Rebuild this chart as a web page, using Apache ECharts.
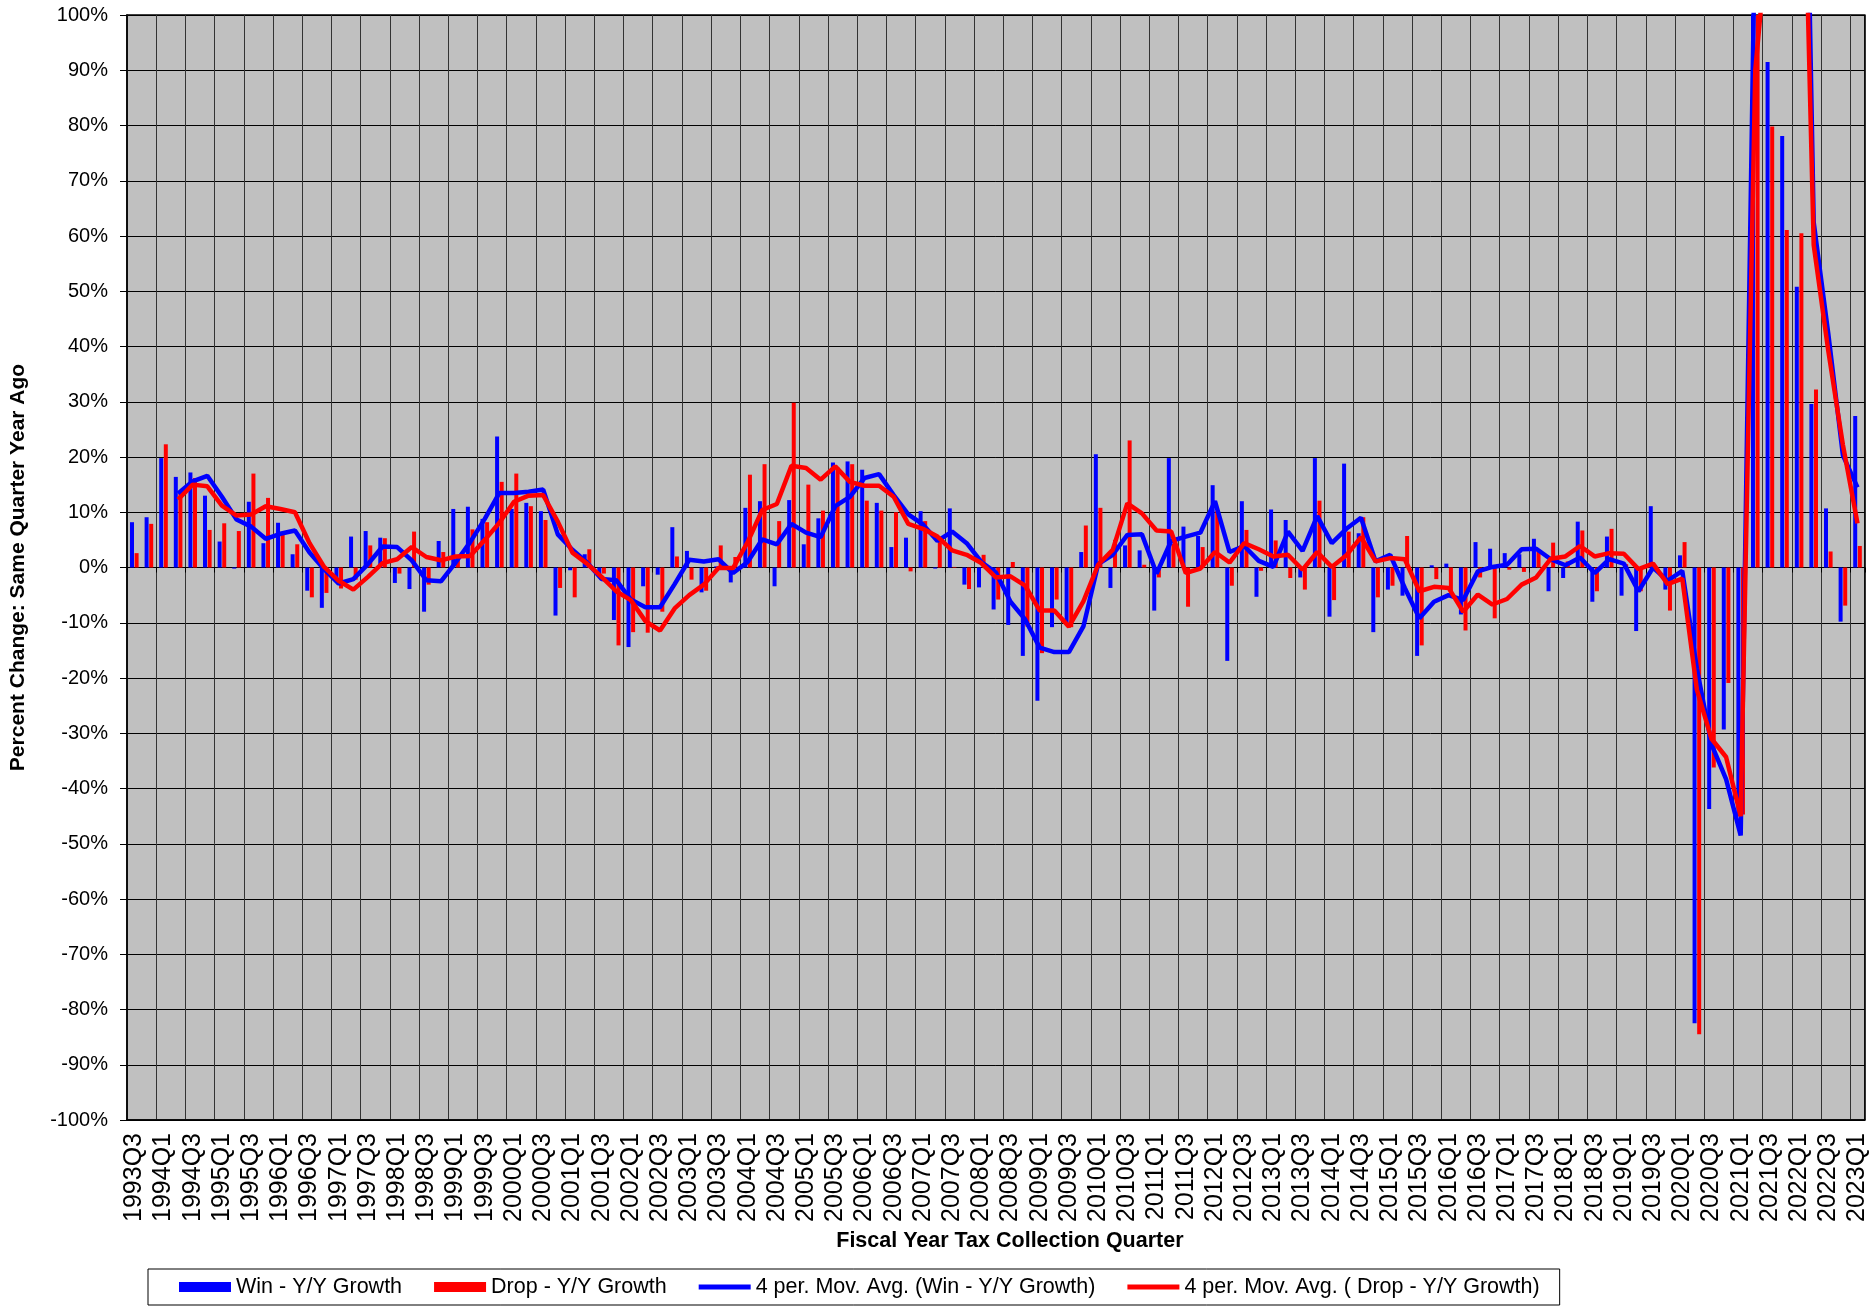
<!DOCTYPE html>
<html>
<head>
<meta charset="utf-8">
<script src="https://cdn.jsdelivr.net/npm/echarts@6/dist/echarts.min.js"></script>
<style>
  html, body { margin: 0; padding: 0; background: #fff; }
  #main { width: 1870px; height: 1306px; }
</style>
</head>
<body>
<div id="main"></div>
<script>
// quarters on the category axis
var quarters = [
  '1993Q3','1993Q4',
  '1994Q1','1994Q2','1994Q3','1994Q4',
  '1995Q1','1995Q2','1995Q3','1995Q4',
  '1996Q1','1996Q2','1996Q3','1996Q4',
  '1997Q1','1997Q2','1997Q3','1997Q4',
  '1998Q1','1998Q2','1998Q3','1998Q4',
  '1999Q1','1999Q2','1999Q3','1999Q4',
  '2000Q1','2000Q2','2000Q3','2000Q4',
  '2001Q1','2001Q2','2001Q3','2001Q4',
  '2002Q1','2002Q2','2002Q3','2002Q4',
  '2003Q1','2003Q2','2003Q3','2003Q4',
  '2004Q1','2004Q2','2004Q3','2004Q4',
  '2005Q1','2005Q2','2005Q3','2005Q4',
  '2006Q1','2006Q2','2006Q3','2006Q4',
  '2007Q1','2007Q2','2007Q3','2007Q4',
  '2008Q1','2008Q2','2008Q3','2008Q4',
  '2009Q1','2009Q2','2009Q3','2009Q4',
  '2010Q1','2010Q2','2010Q3','2010Q4',
  '2011Q1','2011Q2','2011Q3','2011Q4',
  '2012Q1','2012Q2','2012Q3','2012Q4',
  '2013Q1','2013Q2','2013Q3','2013Q4',
  '2014Q1','2014Q2','2014Q3','2014Q4',
  '2015Q1','2015Q2','2015Q3','2015Q4',
  '2016Q1','2016Q2','2016Q3','2016Q4',
  '2017Q1','2017Q2','2017Q3','2017Q4',
  '2018Q1','2018Q2','2018Q3','2018Q4',
  '2019Q1','2019Q2','2019Q3','2019Q4',
  '2020Q1','2020Q2','2020Q3','2020Q4',
  '2021Q1','2021Q2','2021Q3','2021Q4',
  '2022Q1','2022Q2','2022Q3','2022Q4',
  '2023Q1'
];

// Win - Y/Y growth (%)
var winGrowth = [
  8.2, 9.1,
  19.8, 16.4, 17.2, 13.0,
  4.7, -0.2, 11.9, 4.4,
  8.1, 2.4, -4.2, -7.3,
  -2.5, 5.6, 6.6, 5.4,
  -2.8, -3.9, -8.0, 4.8,
  10.6, 11.0, 8.8, 23.7,
  10.6, 11.7, 10.2, -8.7,
  -0.5, 2.4, -1.5, -9.5,
  -14.4, -3.4, -1.3, 7.3,
  3.0, -4.5, 0.2, -2.7,
  10.8, 12.0, -3.4, 12.2,
  4.2, 8.9, 19.0, 19.2,
  17.7, 11.7, 3.7, 5.4,
  10.2, -0.2, 10.7, -3.1,
  -3.6, -7.6, -10.4, -16.0,
  -24.1, -10.8, -10.3, 2.8,
  20.5, -3.7, 4.0, 3.1,
  -7.8, 19.8, 7.4, 5.7,
  14.9, -16.9, 12.0, -5.3,
  10.5, 8.6, -1.8, 19.8,
  -8.9, 18.8, 6.2, -11.7,
  -4.0, -5.1, -16.0, 0.4,
  0.7, -8.5, 4.6, 3.4,
  2.6, 2.4, 5.2, -4.3,
  -1.9, 8.3, -6.2, 5.6,
  -5.1, -11.5, 11.1, -4.0,
  2.2, -82.5, -43.7, -29.3,
  -45.0, 590, 91.5, 78.1,
  50.8, 29.6, 10.7, -9.8,
  27.4
];

// Drop - Y/Y growth (%)
var dropGrowth = [
  2.6, 7.9,
  22.3, 13.6, 16.2, 6.8,
  8.0, 6.6, 17.0, 12.6,
  6.2, 4.2, -5.4, -4.6,
  -3.8, -2.2, 4.0, 5.3,
  -1.1, 6.5, -3.1, 2.8,
  1.9, 6.9, 8.2, 15.5,
  17.0, 11.1, 8.6, -3.7,
  -5.4, 3.3, -1.1, -14.1,
  -11.7, -11.8, -8.0, 2.0,
  -2.2, -4.2, 4.0, 1.9,
  16.8, 18.7, 8.4, 29.8,
  15.0, 10.3, 18.1, 18.7,
  12.1, 10.3, 10.0, -0.7,
  8.4, 4.6, 0.1, -3.9,
  2.3, -5.8, 1.0, -10.7,
  -15.5, -5.8, -10.8, 7.6,
  10.8, 5.0, 23.0, 0.5,
  -1.8, 4.3, -7.1, 3.7,
  10.3, -3.3, 6.8, -0.6,
  4.9, -1.9, -4.0, 12.1,
  -5.9, 6.5, 9.1, -5.4,
  -3.3, 5.7, -14.1, -2.1,
  -4.4, -11.4, -1.8, -9.2,
  -0.4, -0.8, 3.2, 4.5,
  1.1, 6.7, -4.3, 7.0,
  0.6, -4.3, -0.5, -7.8,
  4.6, -84.5, -36.2, -20.9,
  -44.7, 462, 79.8, 61.1,
  60.5, 32.2, 2.9, -6.9,
  3.9
];

// 4 per. moving average lines
var winAvg = [
  null, null,
  null, 13.4, 15.6, 16.6,
  12.8, 8.7, 7.4, 5.2,
  6.1, 6.7, 2.7, -0.3,
  -2.9, -2.1, 0.6, 3.8,
  3.7, 1.3, -2.3, -2.5,
  0.9, 4.6, 8.8, 13.5,
  13.5, 13.7, 14.1, 6.0,
  3.2, 0.9, -2.1, -2.3,
  -5.8, -7.2, -7.2, -3.0,
  1.4, 1.1, 1.5, -1.0,
  1.0, 5.1, 4.2, 7.9,
  6.3, 5.5, 11.1, 12.8,
  16.2, 16.9, 13.1, 9.6,
  7.8, 4.8, 6.5, 4.4,
  1.0, -0.9, -6.2, -9.4,
  -14.5, -15.3, -15.3, -10.6,
  0.6, 2.3, 5.9, 6.0,
  -1.1, 4.8, 5.6, 6.3,
  12.0, 2.8, 3.9, 1.2,
  0.1, 6.5, 3.0, 9.3,
  4.4, 7.0, 9.0, 1.1,
  2.3, -3.7, -9.2, -6.2,
  -5.0, -5.9, -0.7, 0.1,
  0.5, 3.3, 3.4, 1.5,
  0.4, 1.8, -1.0, 1.5,
  0.7, -4.3, 0.0, -2.4,
  -0.6, -18.3, -32.0, -38.3,
  -48.5, 119, 153, 180,
  204, 62.5, 42.3, 20.3,
  14.5
];

var dropAvg = [
  null, null,
  null, 12.3, 15.0, 14.7,
  11.2, 9.4, 9.6, 11.1,
  10.6, 10.0, 4.4, 0.1,
  -2.4, -4.0, -1.7, 0.8,
  1.5, 3.7, 1.9, 1.3,
  2.0, 2.1, 5.0, 8.1,
  11.9, 13.0, 13.1, 8.3,
  2.7, 0.7, -1.7, -4.3,
  -5.9, -9.7, -11.4, -7.4,
  -5.0, -3.1, -0.1, -0.1,
  4.6, 10.4, 11.5, 18.4,
  18.0, 15.9, 18.3, 15.5,
  14.8, 14.8, 12.8, 7.9,
  7.0, 5.6, 3.1, 2.3,
  0.8, -1.8, -1.6, -3.3,
  -7.8, -7.8, -10.7, -6.1,
  0.5, 3.2, 11.6, 9.8,
  6.7, 6.5, -1.0, -0.2,
  2.8, 0.9, 4.4, 3.3,
  2.0, 2.3, -0.4, 2.8,
  0.1, 2.2, 5.5, 1.1,
  1.7, 1.5, -4.3, -3.5,
  -3.7, -8.0, -4.9, -6.7,
  -5.7, -3.1, -1.8, 1.6,
  2.0, 3.9, 2.0, 2.6,
  2.5, -0.3, 0.7, -3.0,
  -2.0, -22.1, -31.0, -34.3,
  -45.0, 90, 119, 139.5,
  166, 58.4, 39.2, 22.2,
  8.0
];

var FONT = 'Arial, "Liberation Sans", sans-serif';
// thick flat stroke used as legend icon for the average lines
var LINE_ICON = 'path://M0,0L52,0L52,5L0,5Z';

var myChart = echarts.init(document.getElementById('main'), null, { renderer: 'canvas' });
myChart.setOption({
    animation: false,
    backgroundColor: '#ffffff',
    textStyle: { fontFamily: FONT, color: '#000' },
    grid: {
        left: 126,
        top: 15,
        width: 1740,
        height: 1105,
        show: true,
        backgroundColor: '#C0C0C0',
        borderColor: '#000',
        borderWidth: 1.5
    },
    legend: {
        left: 148,
        top: 1269,
        itemWidth: 52,
        itemHeight: 10,
        itemGap: 32,
        padding: [7, 20, 7, 31],
        borderColor: '#000',
        borderWidth: 1,
        textStyle: { fontSize: 21.5, color: '#000', fontFamily: FONT },
        data: [
            { name: 'Win - Y/Y Growth', icon: 'rect' },
            { name: 'Drop - Y/Y Growth', icon: 'rect' },
            { name: '4 per. Mov. Avg. (Win - Y/Y Growth)', icon: LINE_ICON },
            { name: '4 per. Mov. Avg. ( Drop - Y/Y Growth)', icon: LINE_ICON }
        ]
    },
    xAxis: [
        {
            type: 'category',
            data: quarters,
            position: 'bottom',
            name: 'Fiscal Year Tax Collection Quarter',
            nameLocation: 'middle',
            nameGap: 110,
            nameTextStyle: { fontSize: 21.5, fontWeight: 'bold', color: '#000', fontFamily: FONT, padding: [0, 0, 0, 28] },
            axisLine: { onZero: false, lineStyle: { color: '#000', width: 1.5 } },
            axisTick: { show: false },
            axisLabel: { interval: 1, rotate: 90, fontSize: 25, color: '#000', margin: 13, fontFamily: FONT },
            splitLine: { show: true, interval: 1, lineStyle: { color: '#333', width: 1 } }
        },
        {
            // the category axis crossing at 0%
            type: 'category',
            data: quarters,
            position: 'top',
            axisLine: { onZero: true, lineStyle: { color: '#000', width: 1 } },
            axisTick: { show: true, interval: 1, inside: true, length: 5, lineStyle: { color: '#000' } },
            axisLabel: { show: false },
            splitLine: { show: false }
        }
    ],
    yAxis: {
        type: 'value',
        min: -100,
        max: 100,
        interval: 10,
        name: 'Percent Change: Same Quarter Year Ago',
        nameLocation: 'middle',
        nameGap: 98,
        nameTextStyle: { fontSize: 21, fontWeight: 'bold', color: '#000', fontFamily: FONT },
        axisLine: { show: true, lineStyle: { color: '#000', width: 1.5 } },
        axisTick: { show: true, length: 7, lineStyle: { color: '#000' } },
        axisLabel: { formatter: '{value}%', fontSize: 20, color: '#000', margin: 19, fontFamily: FONT },
        splitLine: { show: true, lineStyle: { color: '#000', width: 1 } }
    },
    series: [
        {
            name: 'Win - Y/Y Growth',
            type: 'bar',
            xAxisIndex: 0,
            barWidth: 4,
            barGap: '15%',
            itemStyle: { color: '#0000FF' },
            data: winGrowth
        },
        {
            name: 'Drop - Y/Y Growth',
            type: 'bar',
            xAxisIndex: 0,
            barWidth: 4,
            barGap: '15%',
            itemStyle: { color: '#FF0000' },
            data: dropGrowth
        },
        {
            name: '4 per. Mov. Avg. (Win - Y/Y Growth)',
            type: 'line',
            xAxisIndex: 0,
            symbol: 'none',
            smooth: false,
            connectNulls: false,
            lineStyle: { color: '#0000FF', width: 4.5 },
            itemStyle: { color: '#0000FF' },
            z: 3,
            data: winAvg
        },
        {
            name: '4 per. Mov. Avg. ( Drop - Y/Y Growth)',
            type: 'line',
            xAxisIndex: 0,
            symbol: 'none',
            smooth: false,
            connectNulls: false,
            lineStyle: { color: '#FF0000', width: 4.5 },
            itemStyle: { color: '#FF0000' },
            z: 4,
            data: dropAvg
        }
    ]
});
</script>
</body>
</html>
